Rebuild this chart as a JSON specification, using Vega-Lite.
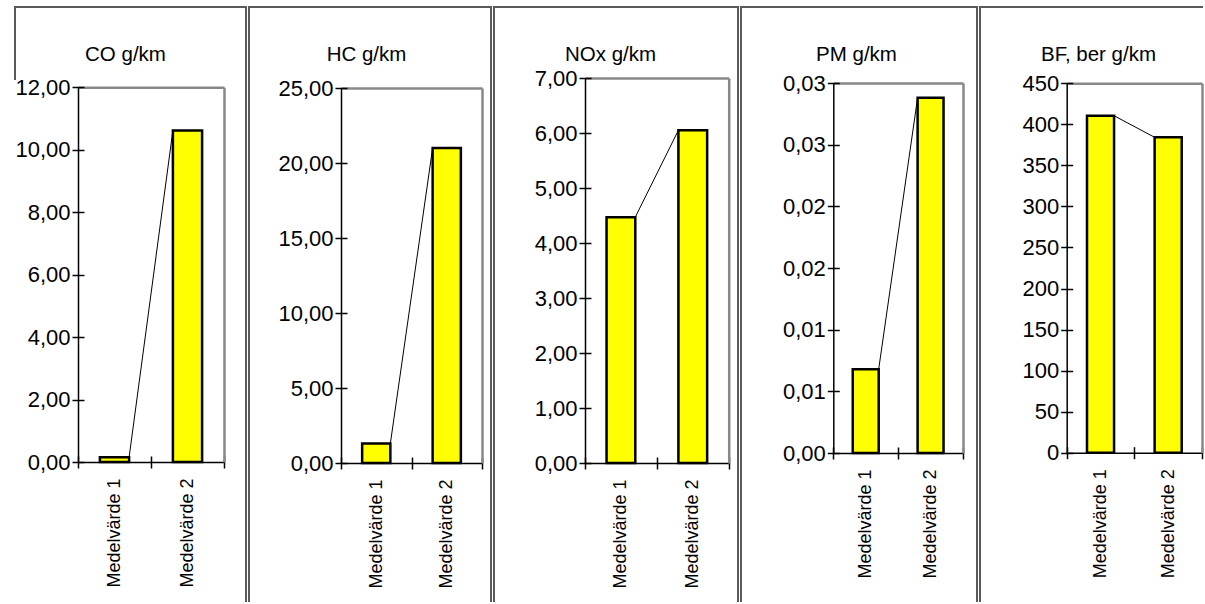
{
  "$schema": "https://vega.github.io/schema/vega-lite/v6.json",
  "padding": {"left": 5, "top": 6, "right": 0, "bottom": 0},
  "autosize": {"type": "pad"},
  "bounds": "flush",
  "spacing": 3,
  "config": {
    "font": "Liberation Sans",
    "axis": {"grid": false, "labelFont": "Liberation Sans", "titleFont": "Liberation Sans", "labelColor": "black", "titleColor": "black"}
  },
  "hconcat": [
    {
      "width": 231, "height": 595,
      "view": {"stroke": "#5a5a5a", "strokeWidth": 2, "strokeDash": [826, 753, 73], "fill": null},
      "layer": [
        {
          "data": {"values": [{"c1": "Medelvärde 1", "c2": "Medelvärde 2", "v1": 0.15, "v2": 10.62}]},
          "mark": {"type": "rule", "color": "black", "strokeWidth": 1},
          "encoding": {
            "x": {"field": "c1", "type": "nominal", "bandPosition": 0.7,
              "scale": {"type": "band", "range": [63, 209], "paddingInner": 0, "paddingOuter": 0},
              "axis": {"orient": "top", "offset": -80.3, "ticks": false, "labels": false, "domainColor": "#888888", "domainWidth": 2.5,
                "title": "CO g/km", "titleX": 110, "titleY": -27.3, "titleAngle": 0, "titleAlign": "center", "titleBaseline": "alphabetic", "titleFontSize": 20.5, "titleFontWeight": "normal"}},
            "x2": {"field": "c2", "bandPosition": 0.3},
            "y": {"field": "v1", "type": "quantitative",
              "scale": {"domain": [0, 12], "range": [455, 80.3], "nice": false, "zero": true},
              "axis": {"orient": "right", "offset": -22, "ticks": false, "labels": false, "domainColor": "#888888", "domainWidth": 2.5, "title": null}},
            "y2": {"field": "v2"}
          }
        },
        {
          "data": {"values": [{"cat": "Medelvärde 1", "value": 0.15}, {"cat": "Medelvärde 2", "value": 10.62}]},
          "mark": {"type": "bar", "fill": "#ffff00", "stroke": "black", "strokeWidth": 2.5, "width": {"band": 0.4}},
          "encoding": {
            "x": {"field": "cat", "type": "nominal",
              "axis": {"orient": "bottom", "offset": -146, "title": null, "domain": false, "tickColor": "black", "tickWidth": 1.5, "tickSize": 12, "tickBand": "extent", "labelAngle": -90, "labelFontSize": 18, "labelPadding": 10}},
            "y": {"field": "value", "type": "quantitative",
              "axis": {"orient": "left", "offset": -69, "title": null, "domain": false, "values": [0, 2, 4, 6, 8, 10, 12], "labelExpr": "replace(format(datum.value, '.2f'), '.', ',')", "labelFontSize": 22, "labelPadding": 2, "tickSize": 12, "tickColor": "black", "tickWidth": 1.5, "labelOverlap": false, "labelFlush": false}}
          }
        },
        {
          "data": {"values": [{"cat": "Medelvärde 1", "value": 0.15}, {"cat": "Medelvärde 2", "value": 10.62}]},
          "mark": {"type": "bar", "opacity": 0, "width": {"band": 0.4}},
          "encoding": {
            "x": {"field": "cat", "type": "nominal",
              "axis": {"orient": "bottom", "offset": -140, "title": null, "ticks": false, "labels": false, "domainColor": "black", "domainWidth": 1.5}},
            "y": {"field": "value", "type": "quantitative",
              "axis": {"orient": "left", "offset": -63, "title": null, "ticks": false, "labels": false, "domainColor": "black", "domainWidth": 1.5}}
          }
        }
      ],
      "resolve": {"axis": {"x": "independent", "y": "independent"}}
    },
    {
      "width": 242, "height": 595,
      "view": {"stroke": "#5a5a5a", "strokeWidth": 2, "strokeDash": [837, 242, 595], "fill": null},
      "layer": [
        {
          "data": {"values": [{"c1": "Medelvärde 1", "c2": "Medelvärde 2", "v1": 1.3, "v2": 21.0}]},
          "mark": {"type": "rule", "color": "black", "strokeWidth": 1},
          "encoding": {
            "x": {"field": "c1", "type": "nominal", "bandPosition": 0.7,
              "scale": {"type": "band", "range": [92, 233], "paddingInner": 0, "paddingOuter": 0},
              "axis": {"orient": "top", "offset": -81, "ticks": false, "labels": false, "domainColor": "#888888", "domainWidth": 2.5,
                "title": "HC g/km", "titleX": 117, "titleY": -28, "titleAngle": 0, "titleAlign": "center", "titleBaseline": "alphabetic", "titleFontSize": 20.5, "titleFontWeight": "normal"}},
            "x2": {"field": "c2", "bandPosition": 0.3},
            "y": {"field": "v1", "type": "quantitative",
              "scale": {"domain": [0, 25], "range": [456, 81], "nice": false, "zero": true},
              "axis": {"orient": "right", "offset": -9, "ticks": false, "labels": false, "domainColor": "#888888", "domainWidth": 2.5, "title": null}},
            "y2": {"field": "v2"}
          }
        },
        {
          "data": {"values": [{"cat": "Medelvärde 1", "value": 1.3}, {"cat": "Medelvärde 2", "value": 21.0}]},
          "mark": {"type": "bar", "fill": "#ffff00", "stroke": "black", "strokeWidth": 2.5, "width": {"band": 0.4}},
          "encoding": {
            "x": {"field": "cat", "type": "nominal",
              "axis": {"orient": "bottom", "offset": -145, "title": null, "domain": false, "tickColor": "black", "tickWidth": 1.5, "tickSize": 12, "tickBand": "extent", "labelAngle": -90, "labelFontSize": 18, "labelPadding": 10}},
            "y": {"field": "value", "type": "quantitative",
              "axis": {"orient": "left", "offset": -98, "title": null, "domain": false, "values": [0, 5, 10, 15, 20, 25], "labelExpr": "replace(format(datum.value, '.2f'), '.', ',')", "labelFontSize": 22, "labelPadding": 2, "tickSize": 12, "tickColor": "black", "tickWidth": 1.5, "labelOverlap": false, "labelFlush": false}}
          }
        },
        {
          "data": {"values": [{"cat": "Medelvärde 1", "value": 1.3}, {"cat": "Medelvärde 2", "value": 21.0}]},
          "mark": {"type": "bar", "opacity": 0, "width": {"band": 0.4}},
          "encoding": {
            "x": {"field": "cat", "type": "nominal",
              "axis": {"orient": "bottom", "offset": -139, "title": null, "ticks": false, "labels": false, "domainColor": "black", "domainWidth": 1.5}},
            "y": {"field": "value", "type": "quantitative",
              "axis": {"orient": "left", "offset": -92, "title": null, "ticks": false, "labels": false, "domainColor": "black", "domainWidth": 1.5}}
          }
        }
      ],
      "resolve": {"axis": {"x": "independent", "y": "independent"}}
    },
    {
      "width": 244, "height": 595,
      "view": {"stroke": "#5a5a5a", "strokeWidth": 2, "strokeDash": [839, 244, 595], "fill": null},
      "layer": [
        {
          "data": {"values": [{"c1": "Medelvärde 1", "c2": "Medelvärde 2", "v1": 4.47, "v2": 6.05}]},
          "mark": {"type": "rule", "color": "black", "strokeWidth": 1},
          "encoding": {
            "x": {"field": "c1", "type": "nominal", "bandPosition": 0.7,
              "scale": {"type": "band", "range": [91, 234.7], "paddingInner": 0, "paddingOuter": 0},
              "axis": {"orient": "top", "offset": -71, "ticks": false, "labels": false, "domainColor": "#888888", "domainWidth": 2.5,
                "title": "NOx g/km", "titleX": 116, "titleY": -18, "titleAngle": 0, "titleAlign": "center", "titleBaseline": "alphabetic", "titleFontSize": 20.5, "titleFontWeight": "normal"}},
            "x2": {"field": "c2", "bandPosition": 0.3},
            "y": {"field": "v1", "type": "quantitative",
              "scale": {"domain": [0, 7], "range": [456, 71], "nice": false, "zero": true},
              "axis": {"orient": "right", "offset": -9.3, "ticks": false, "labels": false, "domainColor": "#888888", "domainWidth": 2.5, "title": null}},
            "y2": {"field": "v2"}
          }
        },
        {
          "data": {"values": [{"cat": "Medelvärde 1", "value": 4.47}, {"cat": "Medelvärde 2", "value": 6.05}]},
          "mark": {"type": "bar", "fill": "#ffff00", "stroke": "black", "strokeWidth": 2.5, "width": {"band": 0.4}},
          "encoding": {
            "x": {"field": "cat", "type": "nominal",
              "axis": {"orient": "bottom", "offset": -145, "title": null, "domain": false, "tickColor": "black", "tickWidth": 1.5, "tickSize": 12, "tickBand": "extent", "labelAngle": -90, "labelFontSize": 18, "labelPadding": 10}},
            "y": {"field": "value", "type": "quantitative",
              "axis": {"orient": "left", "offset": -97, "title": null, "domain": false, "values": [0, 1, 2, 3, 4, 5, 6, 7], "labelExpr": "replace(format(datum.value, '.2f'), '.', ',')", "labelFontSize": 22, "labelPadding": 2, "tickSize": 12, "tickColor": "black", "tickWidth": 1.5, "labelOverlap": false, "labelFlush": false}}
          }
        },
        {
          "data": {"values": [{"cat": "Medelvärde 1", "value": 4.47}, {"cat": "Medelvärde 2", "value": 6.05}]},
          "mark": {"type": "bar", "opacity": 0, "width": {"band": 0.4}},
          "encoding": {
            "x": {"field": "cat", "type": "nominal",
              "axis": {"orient": "bottom", "offset": -139, "title": null, "ticks": false, "labels": false, "domainColor": "black", "domainWidth": 1.5}},
            "y": {"field": "value", "type": "quantitative",
              "axis": {"orient": "left", "offset": -91, "title": null, "ticks": false, "labels": false, "domainColor": "black", "domainWidth": 1.5}}
          }
        }
      ],
      "resolve": {"axis": {"x": "independent", "y": "independent"}}
    },
    {
      "width": 236, "height": 595,
      "view": {"stroke": "#5a5a5a", "strokeWidth": 2, "strokeDash": [831, 236, 595], "fill": null},
      "layer": [
        {
          "data": {"values": [{"c1": "Medelvärde 1", "c2": "Medelvärde 2", "v1": 0.0068, "v2": 0.0288}]},
          "mark": {"type": "rule", "color": "black", "strokeWidth": 1},
          "encoding": {
            "x": {"field": "c1", "type": "nominal", "bandPosition": 0.7,
              "scale": {"type": "band", "range": [92.3, 222], "paddingInner": 0, "paddingOuter": 0},
              "axis": {"orient": "top", "offset": -76, "ticks": false, "labels": false, "domainColor": "#888888", "domainWidth": 2.5,
                "title": "PM g/km", "titleX": 115, "titleY": -23, "titleAngle": 0, "titleAlign": "center", "titleBaseline": "alphabetic", "titleFontSize": 20.5, "titleFontWeight": "normal"}},
            "x2": {"field": "c2", "bandPosition": 0.3},
            "y": {"field": "v1", "type": "quantitative",
              "scale": {"domain": [0, 0.03], "range": [446, 76], "nice": false, "zero": true},
              "axis": {"orient": "right", "offset": -14, "ticks": false, "labels": false, "domainColor": "#888888", "domainWidth": 2.5, "title": null}},
            "y2": {"field": "v2"}
          }
        },
        {
          "data": {"values": [{"cat": "Medelvärde 1", "value": 0.0068}, {"cat": "Medelvärde 2", "value": 0.0288}]},
          "mark": {"type": "bar", "fill": "#ffff00", "stroke": "black", "strokeWidth": 2.5, "width": {"band": 0.4}},
          "encoding": {
            "x": {"field": "cat", "type": "nominal",
              "axis": {"orient": "bottom", "offset": -155, "title": null, "domain": false, "tickColor": "black", "tickWidth": 1.5, "tickSize": 12, "tickBand": "extent", "labelAngle": -90, "labelFontSize": 18, "labelPadding": 10}},
            "y": {"field": "value", "type": "quantitative",
              "axis": {"orient": "left", "offset": -98.3, "title": null, "domain": false, "values": [0, 0.005, 0.01, 0.015, 0.02, 0.025, 0.03], "labelExpr": "replace(format(datum.value + 0.0001, '.2f'), '.', ',')", "labelFontSize": 22, "labelPadding": 2, "tickSize": 12, "tickColor": "black", "tickWidth": 1.5, "labelOverlap": false, "labelFlush": false}}
          }
        },
        {
          "data": {"values": [{"cat": "Medelvärde 1", "value": 0.0068}, {"cat": "Medelvärde 2", "value": 0.0288}]},
          "mark": {"type": "bar", "opacity": 0, "width": {"band": 0.4}},
          "encoding": {
            "x": {"field": "cat", "type": "nominal",
              "axis": {"orient": "bottom", "offset": -149, "title": null, "ticks": false, "labels": false, "domainColor": "black", "domainWidth": 1.5}},
            "y": {"field": "value", "type": "quantitative",
              "axis": {"orient": "left", "offset": -92.3, "title": null, "ticks": false, "labels": false, "domainColor": "black", "domainWidth": 1.5}}
          }
        }
      ],
      "resolve": {"axis": {"x": "independent", "y": "independent"}}
    },
    {
      "width": 223, "height": 595,
      "view": {"stroke": "#5a5a5a", "strokeWidth": 2, "strokeDash": [223, 818, 595], "fill": null},
      "layer": [
        {
          "data": {"values": [{"c1": "Medelvärde 1", "c2": "Medelvärde 2", "v1": 410.5, "v2": 384.2}]},
          "mark": {"type": "rule", "color": "black", "strokeWidth": 1},
          "encoding": {
            "x": {"field": "c1", "type": "nominal", "bandPosition": 0.7,
              "scale": {"type": "band", "range": [86.7, 222], "paddingInner": 0, "paddingOuter": 0},
              "axis": {"orient": "top", "offset": -76.3, "ticks": false, "labels": false, "domainColor": "#888888", "domainWidth": 2.5,
                "title": "BF, ber g/km", "titleX": 118, "titleY": -23.3, "titleAngle": 0, "titleAlign": "center", "titleBaseline": "alphabetic", "titleFontSize": 20.5, "titleFontWeight": "normal"}},
            "x2": {"field": "c2", "bandPosition": 0.3},
            "y": {"field": "v1", "type": "quantitative",
              "scale": {"domain": [0, 450], "range": [445.7, 76.3], "nice": false, "zero": true},
              "axis": {"orient": "right", "offset": -1, "ticks": false, "labels": false, "domainColor": "#888888", "domainWidth": 2.5, "title": null}},
            "y2": {"field": "v2"}
          }
        },
        {
          "data": {"values": [{"cat": "Medelvärde 1", "value": 410.5}, {"cat": "Medelvärde 2", "value": 384.2}]},
          "mark": {"type": "bar", "fill": "#ffff00", "stroke": "black", "strokeWidth": 2.5, "width": {"band": 0.4}},
          "encoding": {
            "x": {"field": "cat", "type": "nominal",
              "axis": {"orient": "bottom", "offset": -155.3, "title": null, "domain": false, "tickColor": "black", "tickWidth": 1.5, "tickSize": 12, "tickBand": "extent", "labelAngle": -90, "labelFontSize": 18, "labelPadding": 10}},
            "y": {"field": "value", "type": "quantitative",
              "axis": {"orient": "left", "offset": -92.7, "title": null, "domain": false, "values": [0, 50, 100, 150, 200, 250, 300, 350, 400, 450], "format": "d", "labelFontSize": 22, "labelPadding": 2, "tickSize": 12, "tickColor": "black", "tickWidth": 1.5, "labelOverlap": false, "labelFlush": false}}
          }
        },
        {
          "data": {"values": [{"cat": "Medelvärde 1", "value": 410.5}, {"cat": "Medelvärde 2", "value": 384.2}]},
          "mark": {"type": "bar", "opacity": 0, "width": {"band": 0.4}},
          "encoding": {
            "x": {"field": "cat", "type": "nominal",
              "axis": {"orient": "bottom", "offset": -149.3, "title": null, "ticks": false, "labels": false, "domainColor": "black", "domainWidth": 1.5}},
            "y": {"field": "value", "type": "quantitative",
              "axis": {"orient": "left", "offset": -86.7, "title": null, "ticks": false, "labels": false, "domainColor": "black", "domainWidth": 1.5}}
          }
        }
      ],
      "resolve": {"axis": {"x": "independent", "y": "independent"}}
    }
  ]
}
